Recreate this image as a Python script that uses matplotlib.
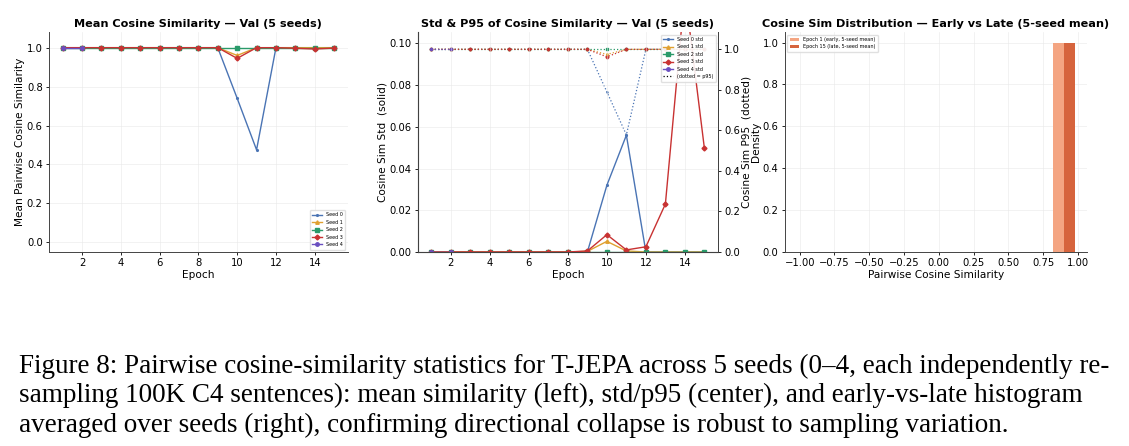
import numpy as np
import matplotlib
matplotlib.use("Agg")
import matplotlib.pyplot as plt
from matplotlib.lines import Line2D

plt.rcParams['font.family'] = ['DejaVu Sans']

epochs = list(range(1, 16))
epochs_seed4 = [1, 2]

# mean pairwise cosine similarity per seed
mean_s0 = [1.0, 1.0, 1.0, 1.0, 1.0, 1.0, 1.0, 1.0, 1.0, 0.74, 0.475, 1.0, 1.0, 1.0, 1.0]
mean_s1 = [1.0, 1.0, 1.0, 1.0, 1.0, 1.0, 1.0, 1.0, 1.0, 0.96, 1.0, 1.0, 1.0, 1.0, 1.0]
mean_s2 = [1.0, 1.0, 1.0, 1.0, 1.0, 1.0, 1.0, 1.0, 1.0, 1.0, 1.0, 1.0, 1.0, 1.0, 1.0]
mean_s3 = [1.0, 1.0, 1.0, 1.0, 1.0, 1.0, 1.0, 1.0, 1.0, 0.945, 1.0, 1.0, 0.997, 0.993, 0.998]
mean_s4 = [1.0, 1.0]

# std of cosine similarity per seed
std_s0 = [0, 0, 0, 0, 0, 0, 0, 0, 0, 0.032, 0.056, 0.0, 0, 0, 0]
std_s1 = [0, 0, 0, 0, 0, 0, 0, 0, 0.0003, 0.0051, 0.0005, 0, 0, 0, 0]
std_s2 = [0, 0, 0, 0, 0, 0, 0, 0, 0, 0, 0, 0, 0, 0, 0]
std_s3 = [0, 0, 0, 0, 0, 0, 0, 0, 0.0005, 0.0083, 0.001, 0.0025, 0.023, 0.125, 0.0497]
std_s4 = [0, 0]

# p95 of cosine similarity per seed
p95_s0 = [1.0, 1.0, 1.0, 1.0, 1.0, 1.0, 1.0, 1.0, 1.0, 0.79, 0.578, 1.0, 1.0, 1.0, 1.0]
p95_s1 = [1.0, 1.0, 1.0, 1.0, 1.0, 1.0, 1.0, 1.0, 1.0, 0.975, 1.0, 1.0, 1.0, 1.0, 1.0]
p95_s2 = [1.0, 1.0, 1.0, 1.0, 1.0, 1.0, 1.0, 1.0, 1.0, 1.0, 1.0, 1.0, 1.0, 1.0, 1.0]
p95_s3 = [1.0, 1.0, 1.0, 1.0, 1.0, 1.0, 1.0, 1.0, 1.0, 0.963, 1.0, 1.0, 1.0, 1.0, 1.0]
p95_s4 = [1.0, 1.0]

# histogram (5-seed mean), bins of width 0.2 over [-1, 1]
bin_edges = np.linspace(-1, 1, 11)
hist_early = [0, 0, 0, 0, 0, 0, 0, 0, 0, 1.0]
hist_late = [0, 0, 0, 0, 0, 0, 0, 0, 0, 1.0]

seed_names = ['Seed 0', 'Seed 1', 'Seed 2', 'Seed 3', 'Seed 4']
colors = ['#4a74b4', '#e0a030', '#2a9a6a', '#c83232', '#6a4fc0']
markers = ['.', '^', 's', 'D', 'o']

fig = plt.figure(figsize=(11.29, 4.46), dpi=100)
bottom, height = 0.435, 0.493
ax1 = fig.add_axes([0.0434, bottom, 0.2646, height])
ax2 = fig.add_axes([0.370, bottom, 0.266, height])
ax3 = fig.add_axes([0.695, bottom, 0.2675, height])

title_kw = dict(fontsize=8.15, fontweight='bold', pad=4)
tick_fs = 7.2
label_fs = 7.6

def style(ax):
    ax.grid(True, color='#e6e6e6', linewidth=0.5, alpha=0.7)
    ax.tick_params(labelsize=tick_fs, length=2.5, width=0.6, pad=2)
    for s in ax.spines.values():
        s.set_linewidth(0.7)
        s.set_color('#444444')

# --- left panel
means = [mean_s0, mean_s1, mean_s2, mean_s3]
for i, ys in enumerate(means):
    ax1.plot(epochs, ys, color=colors[i], marker=markers[i], markersize=2.5,
             linewidth=1.0, label=seed_names[i])
ax1.plot(epochs_seed4, mean_s4, color=colors[4], marker=markers[4], markersize=2.5,
         linewidth=1.0, label=seed_names[4])
ax1.set_ylim(-0.05, 1.08)
ax1.set_xlim(0.3, 15.7)
ax1.set_title('Mean Cosine Similarity — Val (5 seeds)', **title_kw)
ax1.set_xlabel('Epoch', fontsize=label_fs, labelpad=1)
ax1.set_ylabel('Mean Pairwise Cosine Similarity', fontsize=label_fs, labelpad=1.5)
ax1.spines['top'].set_visible(False)
ax1.spines['right'].set_visible(False)
style(ax1)
ax1.legend(loc='lower right', fontsize=3.5, handlelength=2, frameon=True,
           framealpha=0.9, edgecolor='#dddddd', borderpad=0.5, labelspacing=0.5)

# --- middle panel
stds = [std_s0, std_s1, std_s2, std_s3]
p95s = [p95_s0, p95_s1, p95_s2, p95_s3]
ax2b = ax2.twinx()
for i in range(4):
    ax2.plot(epochs, stds[i], color=colors[i], marker=markers[i], markersize=2.5,
             linewidth=1.0, label=seed_names[i] + ' std')
    ax2b.plot(epochs, p95s[i], color=colors[i], marker=markers[i], markersize=1.5,
              linewidth=0.9, linestyle=':')
ax2.plot(epochs_seed4, std_s4, color=colors[4], marker=markers[4], markersize=2.5,
         linewidth=1.0, label=seed_names[4] + ' std')
ax2b.plot(epochs_seed4, p95_s4, color=colors[4], marker=markers[4], markersize=1.5,
          linewidth=0.9, linestyle=':')
ax2.set_ylim(0, 0.1054)
ax2b.set_ylim(0, 1.085)
ax2.set_xlim(0.3, 15.7)
ax2.set_title('Std & P95 of Cosine Similarity — Val (5 seeds)', **title_kw)
ax2.set_xlabel('Epoch', fontsize=label_fs, labelpad=1)
ax2.set_ylabel('Cosine Sim Std  (solid)', fontsize=label_fs, labelpad=1.5)
ax2b.set_ylabel('Cosine Sim P95  (dotted)', fontsize=label_fs, labelpad=1)
ax2.spines['top'].set_visible(False)
ax2b.spines['top'].set_visible(False)
style(ax2)
ax2b.tick_params(labelsize=tick_fs, length=2.5, width=0.6, pad=2)
ax2b.spines['right'].set_linewidth(0.7)
handles, labels = ax2.get_legend_handles_labels()
handles.append(Line2D([], [], color='black', linestyle=':', linewidth=0.9))
labels.append('(dotted = p95)')
leg = ax2.legend(handles, labels, loc='upper right', fontsize=3.5, handlelength=2,
                 frameon=True, framealpha=0.9, edgecolor='#dddddd', borderpad=0.5,
                 labelspacing=0.5)
leg.set_zorder(10)
ax2.set_zorder(ax2b.get_zorder() + 1)
ax2.patch.set_visible(False)

# --- right panel
centers = (bin_edges[:-1] + bin_edges[1:]) / 2
ax3.hist([centers, centers], bins=bin_edges, weights=[hist_early, hist_late],
         color=['#f4a582', '#d6643d'],
         label=['Epoch 1 (early, 5-seed mean)', 'Epoch 15 (late, 5-seed mean)'])
ax3.set_xlim(-1.108, 1.063)
ax3.set_ylim(0, 1.05)
ax3.set_xticks(np.arange(-1.0, 1.01, 0.25))
ax3.set_title('Cosine Sim Distribution — Early vs Late (5-seed mean)', **title_kw)
ax3.set_xlabel('Pairwise Cosine Similarity', fontsize=label_fs, labelpad=1)
ax3.set_ylabel('Density', fontsize=label_fs, labelpad=1)
ax3.spines['top'].set_visible(False)
ax3.spines['right'].set_visible(False)
style(ax3)
ax3.set_axisbelow(True)
ax3.legend(loc='upper left', fontsize=3.5, frameon=True, framealpha=0.9,
           edgecolor='#dddddd', borderpad=0.5, labelspacing=0.5)

# --- caption
caption = [
    'Figure 8: Pairwise cosine-similarity statistics for T-JEPA across 5 seeds (0\u20134, each independently re-',
    'sampling 100K C4 sentences): mean similarity (left), std/p95 (center), and early-vs-late histogram',
    'averaged over seeds (right), confirming directional collapse is robust to sampling variation.',
]
for k, line in enumerate(caption):
    fig.text(0.017, 1 - (366 + 29.5 * k) / 446, line, fontsize=19.5,
             family=['Liberation Serif', 'DejaVu Serif'], va='center', ha='left')

fig.savefig('out.png', dpi=100)
